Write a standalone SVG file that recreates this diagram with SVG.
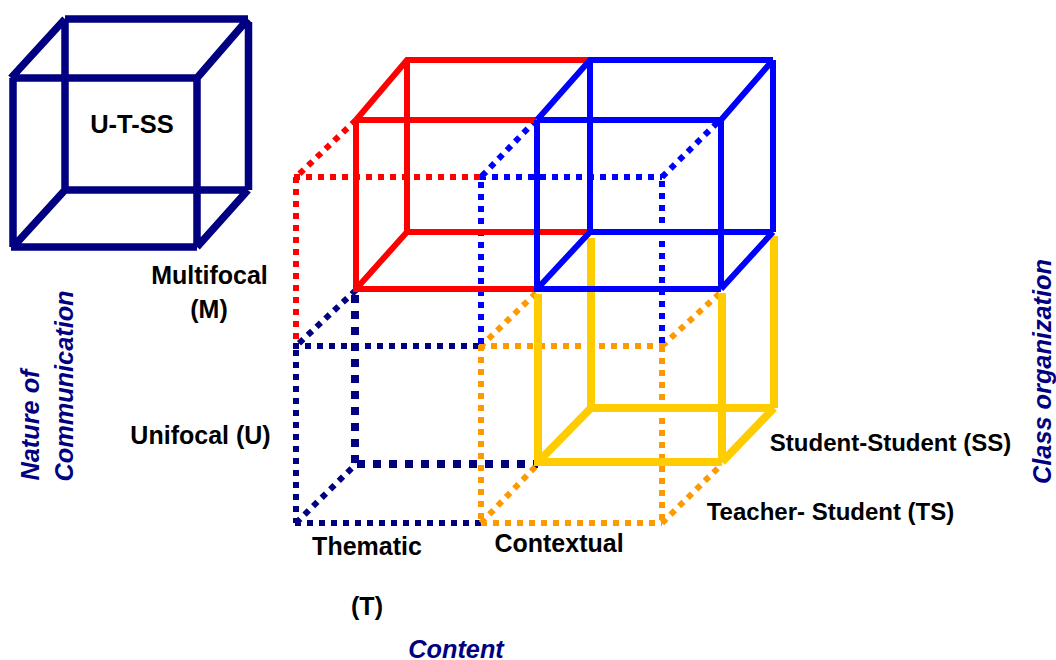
<svg xmlns="http://www.w3.org/2000/svg" width="1056" height="660" viewBox="0 0 1056 660">
<style>
text{font-family:"Liberation Sans",Arial,sans-serif;font-weight:bold;font-size:25px;fill:#000}
text.ax{font-style:italic;fill:#000080;font-size:25.3px}
text.sm{font-size:24px}
path{fill:none;stroke-linecap:butt;stroke-linejoin:miter}
.navy{stroke:#000080;stroke-width:7.5}
.red{stroke:#f00;stroke-width:6}
.blue{stroke:#00f;stroke-width:6}
.yel{stroke:#fc0;stroke-width:8}
.dot{stroke-width:6;stroke-dasharray:6 6}
.dnavy{stroke:#000080}.dred{stroke:#f00}.dblue{stroke:#00f}.dor{stroke:#f90}
.thick{stroke:#000080;stroke-width:8;stroke-dasharray:8 8}
</style>
<g id="connectors">
<path class="dot dred" d="M356 120L296 177M294 177H481M296 177V346"/>
<path class="dot dnavy" d="M356 290L296 346M293 346H481M296 350V523M295 523H481M296 523L356 464"/>
<path class="thick" d="M355 295V464M357 464H538"/>
<path class="dot dor" d="M536 293L481 346M479 346H662M662 346L720 293M481 345V523M662 346V523M481 523H662M481 523L538 464M662 523L720 466"/>
<path class="dot dblue" d="M536 120L481 177M480 177H662M481 182V346M662 177L720 120M662 181V346"/>
<path class="red" d="M356 120L407 60H590M356 120H536M407 60V232M407 232H590M356 120V289H536M356 289L407 232"/>
<path class="yel" d="M538 294V462H722M722 293V462M591 238V408H774M774 236V408M538 462L591 408M722 462L774 408"/>
<path class="blue" d="M537 120L590 60H773M537 120H721M773 60V232M590 60V232M537 120V289H721M721 120V289M590 232H773M537 289L590 232M721 289L773 232M721 120L773 60"/>
</g>
<g id="cube-u-t-ss">
<path class="navy" d="M13 78H197M13 78V247M11 247H197M197 78V247M65 19H248M65 19V190M65 190H248M248.5 22V190M11 78L65 19M197 78L248 19M13 247L65 190M197 247L248 190"/>
<text x="132" y="133" text-anchor="middle" style="font-size:25.5px">U-T-SS</text>
</g>
<g id="labels">
<text x="209.5" y="284" text-anchor="middle">Multifocal</text>
<text x="209" y="318" text-anchor="middle">(M)</text>
<text x="200.5" y="444" text-anchor="middle">Unifocal (U)</text>
<text x="367" y="555" text-anchor="middle">Thematic</text>
<text x="367" y="615" text-anchor="middle">(T)</text>
<text x="559" y="552" text-anchor="middle">Contextual</text>
<text class="sm" x="890.5" y="451" text-anchor="middle">Student-Student (SS)</text>
<text class="sm" x="830.5" y="520" text-anchor="middle">Teacher- Student (TS)</text>
<text class="ax" x="456" y="658" text-anchor="middle">Content</text>
<text class="ax" transform="translate(39 425) rotate(-90)" text-anchor="middle">Nature of</text>
<text class="ax" transform="translate(73 386) rotate(-90)" text-anchor="middle">Communication</text>
<text class="ax" transform="translate(1050.5 371.5) rotate(-90)" text-anchor="middle">Class organization</text>
</g>
</svg>
